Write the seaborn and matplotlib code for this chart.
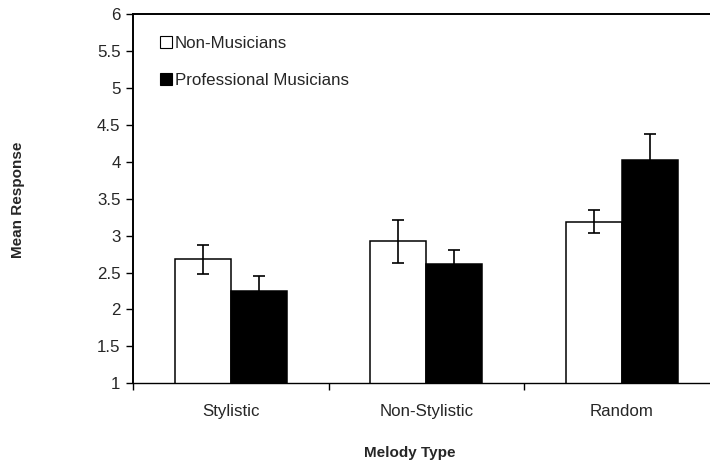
import numpy as np
import pandas as pd
import matplotlib
matplotlib.use('Agg')
import matplotlib.pyplot as plt
from matplotlib.lines import Line2D
import seaborn as sns

# dados
categorias = ['Stylistic', 'Non-Stylistic', 'Random']
grupos = ['Non-Musicians', 'Professional Musicians']
media_nao_musicos = [2.68, 2.92, 3.19]
media_musicos = [2.25, 2.62, 4.03]
erro_nao_musicos = [0.195, 0.29, 0.15]
erro_musicos = [0.20, 0.18, 0.34]

tb = pd.DataFrame({
    'Melody Type': categorias * 2,
    'Grupo': [grupos[0]] * 3 + [grupos[1]] * 3,
    'Mean Response': media_nao_musicos + media_musicos,
})

sns.set_style('white')
plt.rcParams['font.family'] = ['Liberation Sans', 'DejaVu Sans']

fig = plt.figure(figsize=(7.1, 4.67), dpi=100)
ax = fig.add_axes([133 / 710, 1 - 383.3 / 467, 586.5 / 710, 369.3 / 467])

sns.barplot(data=tb, x='Melody Type', y='Mean Response', hue='Grupo',
            order=categorias, hue_order=grupos,
            palette=['white', 'black'], edgecolor='black', linewidth=1.1,
            width=0.575, gap=0, errorbar=None, legend=False, ax=ax)

# barras de erro no centro de cada barra
for cont, erros in zip(ax.containers, [erro_nao_musicos, erro_musicos]):
    xs = [p.get_x() + p.get_width() / 2 for p in cont.patches]
    ys = [p.get_height() for p in cont.patches]
    ax.errorbar(xs, ys, yerr=erros, fmt='none', ecolor='black',
                elinewidth=1.2, capsize=4.3, capthick=1.2, zorder=5)

ax.set_ylim(1, 6)
ax.set_xlim(-0.5, 2.5)
yt = np.arange(1, 6.01, 0.5)
ax.set_yticks(yt)
ax.set_yticklabels([f'{v:g}' for v in yt])

# marcas do eixo x entre as categorias
ax.set_xticks([0, 1, 2])
ax.set_xticks([-0.5, 0.5, 1.5], minor=True)
ax.tick_params(axis='x', which='major', length=0, pad=15, labelsize=12.2)
ax.tick_params(axis='x', which='minor', length=5, width=1, direction='out', color='black')
ax.tick_params(axis='y', length=5, width=1, direction='out', color='black', pad=4, labelsize=12.2)
ax.tick_params(left=True, bottom=True, which='both')

ax.set_xlabel('')
ax.set_ylabel('')
for lado in ['left', 'top']:
    ax.spines[lado].set_visible(True)
    ax.spines[lado].set_color('black')
    ax.spines[lado].set_linewidth(1.4)
ax.spines['bottom'].set_color('black')
ax.spines['bottom'].set_linewidth(1.0)
ax.spines['right'].set_visible(False)

fig.text(18 / 710, 1 - 200 / 467, 'Mean Response', rotation=90, ha='center', va='center',
         fontsize=11, fontweight='bold')
fig.text(410 / 710, 1 - 453 / 467, 'Melody Type', ha='center', va='center',
         fontsize=11, fontweight='bold')

# legenda com quadrados
handles = [Line2D([], [], marker='s', linestyle='none', markersize=8.5,
                  markerfacecolor=c, markeredgecolor='black', markeredgewidth=0.8)
           for c in ['white', 'black']]
ax.legend(handles, grupos, loc='upper left', bbox_to_anchor=(0.035, 0.96),
          frameon=False, fontsize=12.2, handlelength=0.7, handletextpad=0.15,
          labelspacing=1.3, borderaxespad=0)

fig.savefig('out.png', dpi=100)
